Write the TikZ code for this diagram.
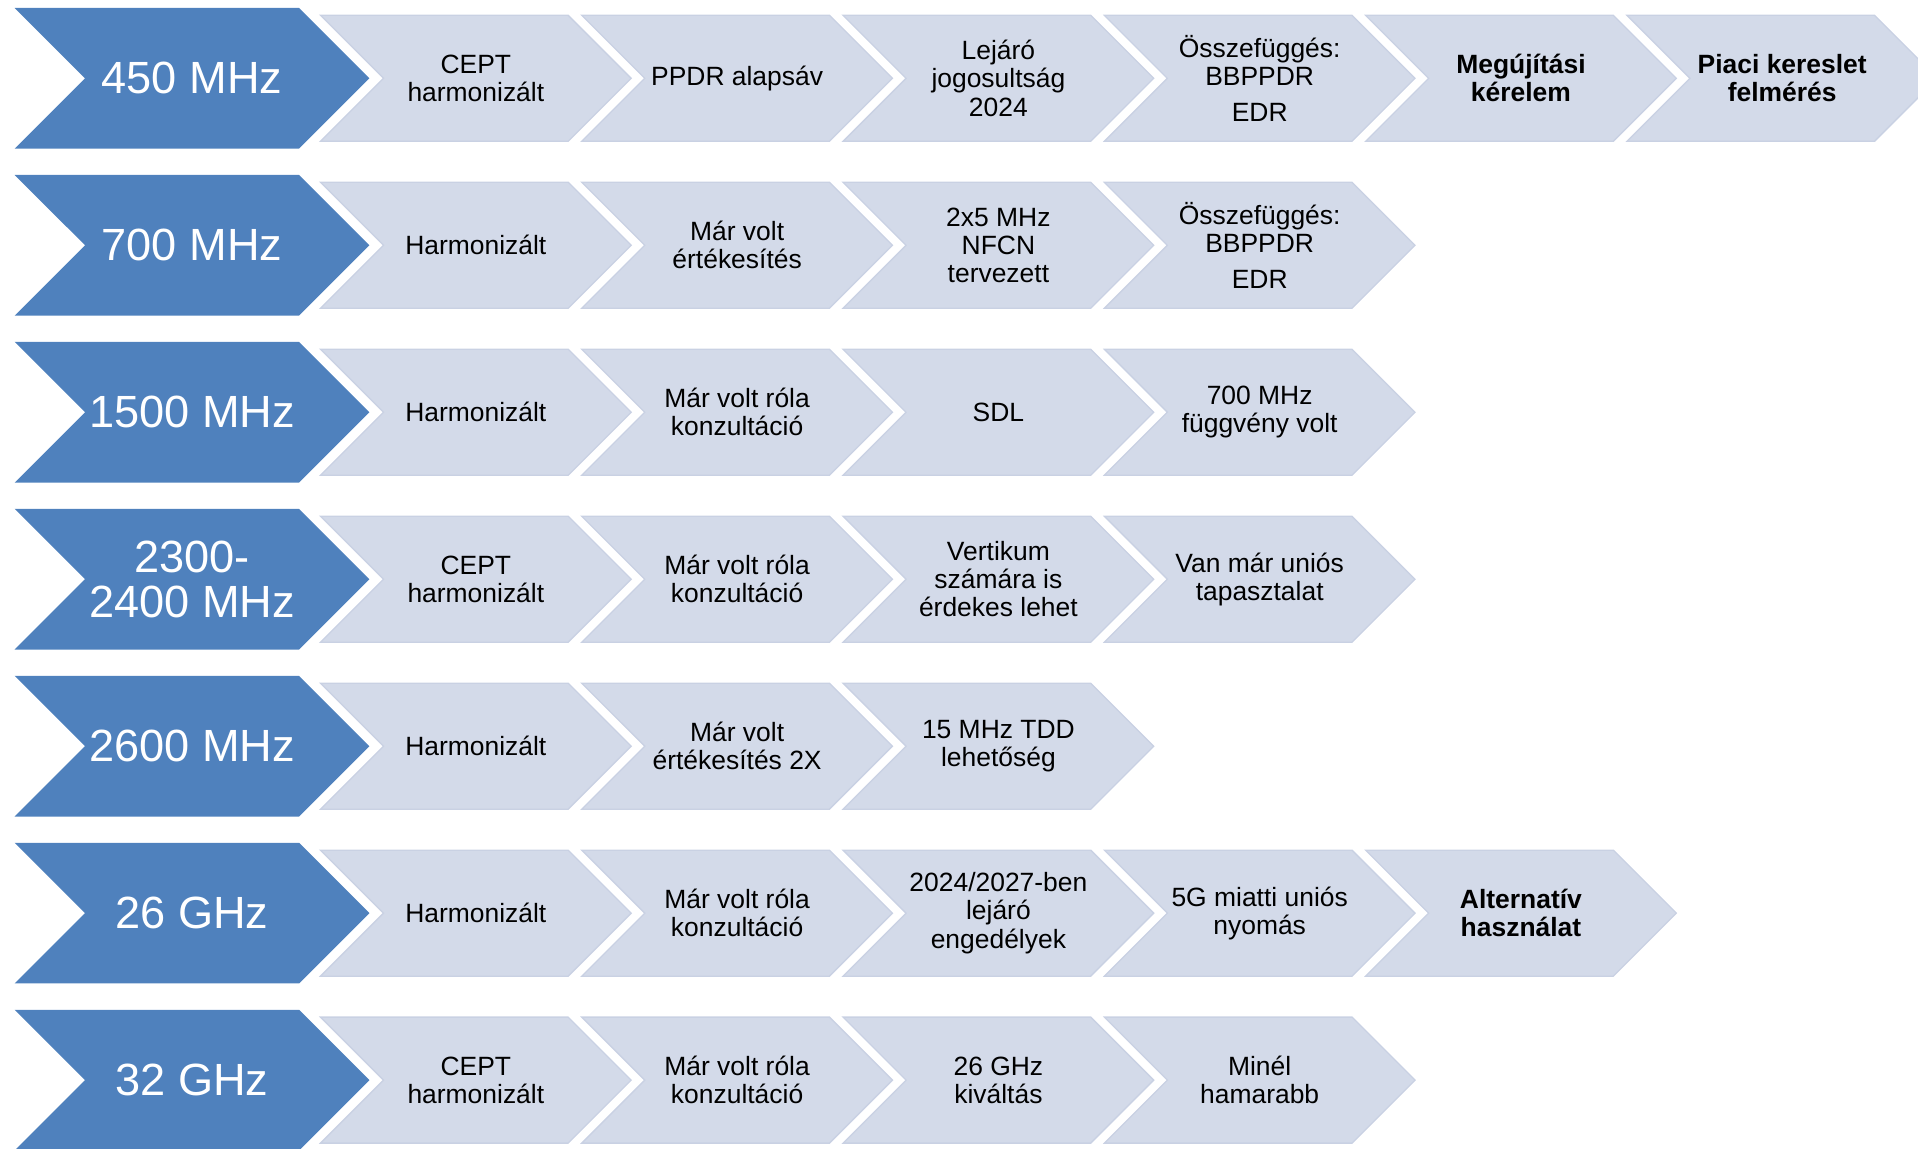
\documentclass[tikz,border=0pt]{standalone}
\usepackage{fontspec}
\setmainfont{Liberation Sans}
\usetikzlibrary{shapes.symbols,positioning}

\definecolor{bandblue}{HTML}{4F81BD}
\definecolor{steplight}{HTML}{D3DAE9}
\definecolor{stepedge}{HTML}{C9D1E3}

\begin{document}
\begin{tikzpicture}[node distance=4.272cm,
  band/.style={signal,signal from=west,signal to=east,signal pointer angle=90,
    fill=bandblue,text=white,inner sep=0pt,minimum width=5.8cm,minimum height=2.3cm,
    align=center,font=\fontsize{21}{21}\selectfont},
  stepbox/.style={signal,signal from=west,signal to=east,signal pointer angle=90,
    fill=steplight,draw=stepedge,line width=0.6pt,inner sep=0pt,minimum width=5.08cm,
    minimum height=2.06cm,align=center,font=\fontsize{12.3}{13.1}\selectfont},
  hot/.style={font=\fontsize{12.3}{13.1}\selectfont\bfseries}]

 \useasboundingbox (0,0) rectangle (31.36,-18.78);

 % 450 MHz
 \node[band] (b450) at (3.14,-1.28) {450 MHz};
 \node[stepbox] (s450a) [right of=b450, xshift=0.368cm] {CEPT\\harmonizált};
 \node[stepbox] (s450b) [right of=s450a] {PPDR alapsáv};
 \node[stepbox] (s450c) [right of=s450b] {Lejáró\\jogosultság\\2024};
 \node[stepbox] (s450d) [right of=s450c] {Összefüggés:\\BBPPDR\\[3.5pt]EDR};
 \node[stepbox,hot] (s450e) [right of=s450d] {Megújítási\\kérelem};
 \node[stepbox,hot] (s450f) [right of=s450e] {Piaci kereslet\\felmérés};

 % 700 MHz
 \node[band] (b700) [below of=b450, node distance=2.73cm] {700 MHz};
 \node[stepbox] (s700a) [right of=b700, xshift=0.368cm] {Harmonizált};
 \node[stepbox] (s700b) [right of=s700a] {Már volt\\értékesítés};
 \node[stepbox] (s700c) [right of=s700b] {2x5 MHz\\NFCN\\tervezett};
 \node[stepbox] (s700d) [right of=s700c] {Összefüggés:\\BBPPDR\\[3.5pt]EDR};

 % 1500 MHz
 \node[band] (b1500) [below of=b700, node distance=2.73cm] {1500 MHz};
 \node[stepbox] (s1500a) [right of=b1500, xshift=0.368cm] {Harmonizált};
 \node[stepbox] (s1500b) [right of=s1500a] {Már volt róla\\konzultáció};
 \node[stepbox] (s1500c) [right of=s1500b] {SDL};
 \node[stepbox] (s1500d) [right of=s1500c] {700 MHz\\függvény volt};

 % 2300-2400 MHz
 \node[band] (b2300) [below of=b1500, node distance=2.73cm] {2300-\\2400 MHz};
 \node[stepbox] (s2300a) [right of=b2300, xshift=0.368cm] {CEPT\\harmonizált};
 \node[stepbox] (s2300b) [right of=s2300a] {Már volt róla\\konzultáció};
 \node[stepbox] (s2300c) [right of=s2300b] {Vertikum\\számára is\\érdekes lehet};
 \node[stepbox] (s2300d) [right of=s2300c] {Van már uniós\\tapasztalat};

 % 2600 MHz
 \node[band] (b2600) [below of=b2300, node distance=2.73cm] {2600 MHz};
 \node[stepbox] (s2600a) [right of=b2600, xshift=0.368cm] {Harmonizált};
 \node[stepbox] (s2600b) [right of=s2600a] {Már volt\\értékesítés 2X};
 \node[stepbox] (s2600c) [right of=s2600b] {15 MHz TDD\\lehetőség};

 % 26 GHz
 \node[band] (b26) [below of=b2600, node distance=2.73cm] {26 GHz};
 \node[stepbox] (s26a) [right of=b26, xshift=0.368cm] {Harmonizált};
 \node[stepbox] (s26b) [right of=s26a] {Már volt róla\\konzultáció};
 \node[stepbox] (s26c) [right of=s26b] {2024/2027-ben\\lejáró\\engedélyek};
 \node[stepbox] (s26d) [right of=s26c] {5G miatti uniós\\nyomás};
 \node[stepbox,hot] (s26e) [right of=s26d] {Alternatív\\használat};

 % 32 GHz
 \node[band] (b32) [below of=b26, node distance=2.73cm] {32 GHz};
 \node[stepbox] (s32a) [right of=b32, xshift=0.368cm] {CEPT\\harmonizált};
 \node[stepbox] (s32b) [right of=s32a] {Már volt róla\\konzultáció};
 \node[stepbox] (s32c) [right of=s32b] {26 GHz\\kiváltás};
 \node[stepbox] (s32d) [right of=s32c] {Minél\\hamarabb};

\end{tikzpicture}
\end{document}
